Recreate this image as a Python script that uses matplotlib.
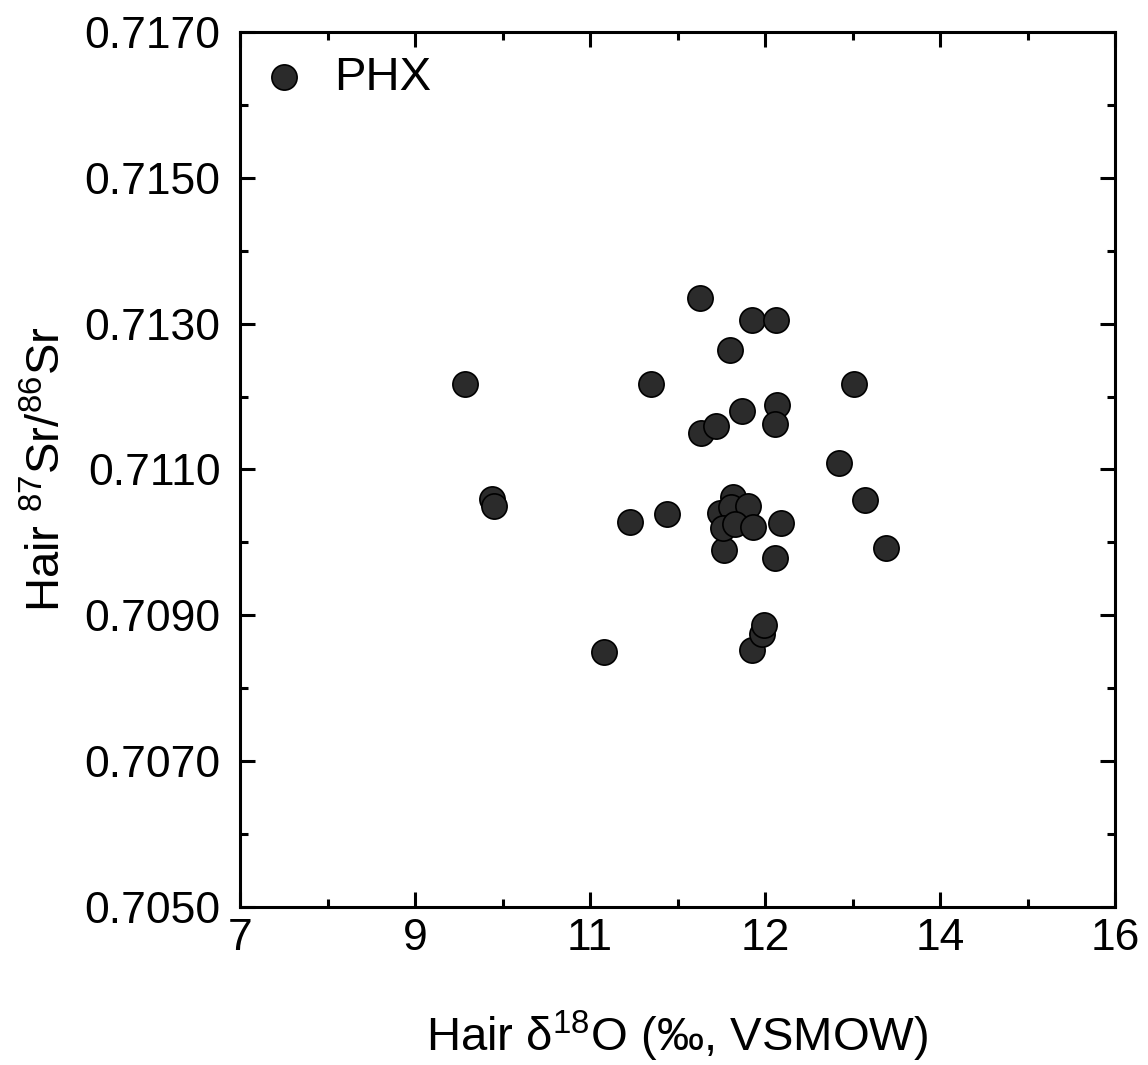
import matplotlib
matplotlib.use("Agg")
import matplotlib.pyplot as plt
import numpy as np

plt.rcParams["font.family"] = ["Liberation Sans", "DejaVu Sans"]
plt.rcParams["mathtext.fontset"] = "custom"
plt.rcParams["mathtext.rm"] = "Liberation Sans"
plt.rcParams["mathtext.it"] = "Liberation Sans"

# hair d18O (permil, VSMOW) and 87Sr/86Sr, PHX samples
d18O = [9.31, 9.59, 9.61, 10.74, 11.01, 11.23, 11.39, 11.73, 11.74, 11.90,
        12.04, 12.16, 12.27, 12.51, 12.52, 12.50, 13.16, 13.32, 13.43, 13.64,
        12.56, 12.50, 11.98, 12.27, 12.37, 12.39,
        12.07, 11.94, 12.05, 12.22, 11.97, 12.09, 12.28]
sr = [0.71217, 0.71060, 0.71050, 0.70850, 0.71028, 0.71217, 0.71039, 0.71335, 0.71150, 0.71160,
      0.71264, 0.71180, 0.71305, 0.71305, 0.71189, 0.71162, 0.71109, 0.71217, 0.71058, 0.70992,
      0.71027, 0.70979, 0.70990, 0.70853, 0.70875, 0.70887,
      0.71062, 0.71040, 0.71048, 0.71050, 0.71020, 0.71025, 0.71021]

xticks = np.linspace(7, 16, 6)
yticks = [0.7050, 0.7070, 0.7090, 0.7110, 0.7130, 0.7150, 0.7170]

fig = plt.figure(figsize=(11.48, 10.65), dpi=100)
ax = fig.add_axes([0.2091, 0.1484, 0.7622, 0.8216])

ax.scatter(d18O, sr, s=330, c="#2b2b2b", edgecolors="black", linewidths=1.2,
           label="PHX", zorder=3)

ax.set_xlim(7, 16)
ax.set_ylim(0.7050, 0.7170)
ax.set_xticks(xticks)
ax.set_xticklabels([f"{v:.0f}" for v in xticks])
ax.set_xticks(xticks[:-1] + 0.9, minor=True)
ax.set_yticks(yticks)
ax.set_yticklabels([f"{v:.4f}" for v in yticks])
ax.set_yticks(np.array(yticks[:-1]) + 0.001, minor=True)

ax.tick_params(which="both", direction="in", top=True, right=True, width=2.2, labelsize=32)
ax.tick_params(which="major", length=11)
ax.tick_params(which="minor", length=6)
ax.tick_params(axis="y", pad=14)
ax.tick_params(axis="x", pad=8)
for sp in ax.spines.values():
    sp.set_linewidth(2.2)

ax.set_xlabel("Hair $\\mathregular{\\delta^{18}}$O (‰, VSMOW)", fontsize=34, labelpad=36)
ax.set_ylabel("Hair $\\mathregular{^{87}}$Sr/$\\mathregular{^{86}}$Sr", fontsize=34, labelpad=10)

ax.legend(loc="upper left", frameon=False, fontsize=34, handlelength=0.85,
          handletextpad=0.65, borderpad=0.2, borderaxespad=0.3)

fig.savefig("out.png", dpi=100)
